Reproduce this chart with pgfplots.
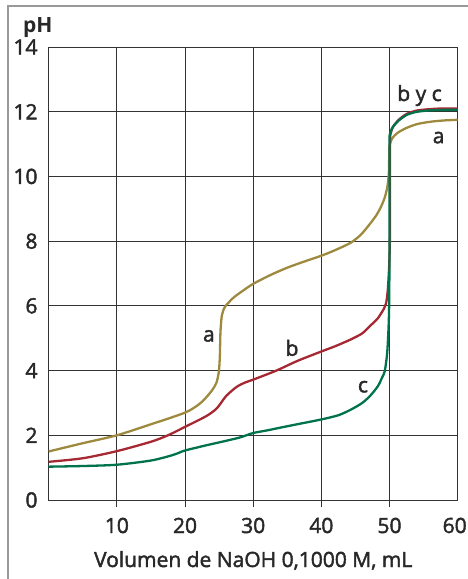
\documentclass[border=0pt]{standalone}
\usepackage{pgfplots}
\pgfplotsset{compat=1.18}
\usepackage{fontspec}
\setmainfont{Open Sans}
\font\medf="Open Sans:embolden=2" at 21pt
\definecolor{ca}{RGB}{158,138,62}
\definecolor{cb}{RGB}{165,40,50}
\definecolor{cc}{RGB}{0,115,75}
\definecolor{txt}{RGB}{40,40,40}
\newcommand{\lf}{\medf}
\begin{document}
\lf
\begin{tikzpicture}[x=1pt,y=1pt]
\useasboundingbox (0,0) rectangle (467,579);
\draw[black!40, line width=1.3pt] (8,-2) -- (8,573) -- (470,573);
\begin{axis}[
  at={(48.7pt,79pt)}, anchor=south west,
  scale only axis, width=409pt, height=453pt,
  xmin=0, xmax=60, ymin=0, ymax=14,
  xtick={10,20,30,40,50}, extra x ticks={60},
  extra x tick style={major tick length=0pt, xticklabel style={yshift=-7pt, xshift=-3pt}},
  ytick={0,2,...,14},
  grid=major, grid style={black!80, line width=0.9pt},
  axis line style={black!80, line width=0.9pt},
  tick align=outside, major tick length=7pt,
  xtick pos=left, ytick pos=left,
  xtick style={black!80, line width=0.9pt},
  ytick style={draw=none},
  ticklabel style={font=\lf, text=txt, inner sep=0pt},
  xticklabel style={anchor=center, yshift=-18.5pt},
  yticklabel style={anchor=east, xshift=-4pt},
  /pgf/number format/assume math mode=true,
  xlabel={Volumen de NaOH 0,1000 M, mL},
  xlabel style={at={(rel axis cs:0.5,0)}, anchor=base, yshift=-67pt, font=\lf, text=txt},
  every axis plot/.append style={line width=2.3pt, smooth, tension=0.45},
  clip=false,
]
% curve a
\addplot[ca] coordinates {
(0,1.50) (4.9,1.75) (10,2.00) (15,2.34) (20,2.70) (22,2.95) (23.1,3.17) (24,3.40) (24.6,3.62) (24.95,3.95)
(25.1,4.4) (25.2,5.2) (25.4,5.7) (25.8,5.95) (26.3,6.08) (27.2,6.27) (28.5,6.47) (30,6.68)
(32.5,6.95) (35,7.18) (37.5,7.37) (40,7.55) (42,7.72) (44.3,7.95) (45.8,8.2) (47,8.5) (48,8.78)
(48.7,9.04) (49.3,9.35) (49.7,9.7) (49.9,10.1) (49.95,10.6) (50.0,10.95) (50.4,11.18) (51.2,11.35)
(52.5,11.5) (54.1,11.62) (56,11.69) (58,11.73) (60,11.75)
};
% curve b
\addplot[cb] coordinates {
(0,1.18) (5,1.29) (10,1.51) (15,1.8) (17.5,2.0) (20,2.26) (23.1,2.59) (24.5,2.8) (25.1,2.95)
(26.1,3.23) (27.6,3.5) (28.8,3.63) (30,3.72) (33.4,4.0) (36.5,4.3) (40,4.59) (42,4.75) (44.3,4.96)
(46,5.15) (47.2,5.39) (48.3,5.62) (49.2,5.92) (49.5,6.08) (49.75,6.5) (49.95,7.24) (50.05,8.0)
(50.08,9.5) (50.08,10.5) (50.08,11.2) (50.4,11.48) (51.2,11.72) (52.5,11.93) (54.1,12.04) (56.6,12.09)
(58,12.1) (60,12.1)
};
% curve c
\addplot[cc] coordinates {
(0,1.03) (5,1.05) (10,1.09) (15,1.22) (17.9,1.37) (19,1.45) (20,1.53) (23.1,1.69) (25,1.78) (28,1.93)
(30,2.07) (32,2.15) (35,2.28) (40,2.49) (42.5,2.62) (44.3,2.79) (46,3.0) (47.2,3.23) (48.3,3.52) (48.9,3.78)
(49.3,3.98) (49.65,4.53) (49.85,5.3) (49.95,6.1) (50.0,8.0) (50.0,9.6) (50.0,10.9) (50.0,11.25)
(50.4,11.5) (51.2,11.7) (52.5,11.9) (54.1,12.0) (56.6,12.05) (60,12.06)
};
\node[text=txt, font=\lf] at (axis cs:23.5,5.07) {a};
\node[text=txt, font=\lf] at (axis cs:35.7,4.7) {b};
\node[text=txt, font=\lf] at (axis cs:46.1,3.5) {c};
\node[text=txt, font=\lf] at (axis cs:54.4,12.5) {b y c};
\node[text=txt, font=\lf] at (axis cs:57.2,11.2) {a};
\node[text=txt, font=\fontsize{21}{25}\selectfont\bfseries, anchor=base, inner sep=0pt, xshift=-11pt, yshift=14pt] at (rel axis cs:0,1) {pH};
\end{axis}
\end{tikzpicture}
\end{document}
